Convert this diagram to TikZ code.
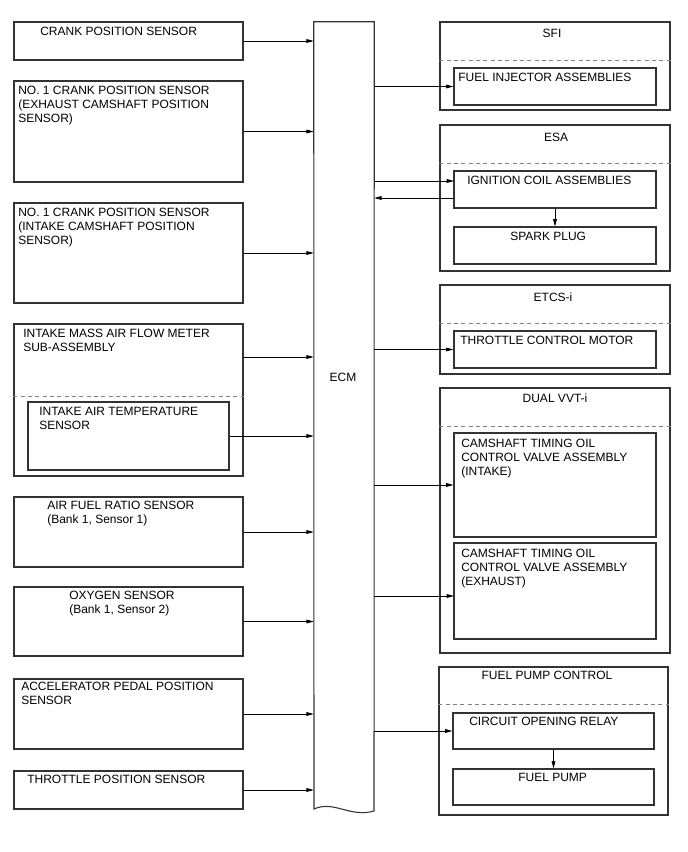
\documentclass[tikz,border=0pt]{standalone}
\usepackage{fontspec}
\setmainfont{Liberation Sans}
\usetikzlibrary{arrows.meta,fit,positioning}

\begin{document}
\begin{tikzpicture}[x=0.75pt, y=-0.75pt,
    every node/.style={font=\fontsize{9pt}{10.5pt}\selectfont},
    box/.style={draw=black!80, line width=0.8pt, inner sep=0pt, fit={#1}},
    txt/.style={anchor=north west, inner sep=0pt, align=left},
    head/.style={anchor=north, inner sep=0pt},
    sep/.style={draw=black!50, line width=0.6pt, dash pattern=on 3pt off 2.5pt},
    arr/.style={-{Triangle[length=5.5pt,width=2.8pt]}, line width=0.55pt}]
    \useasboundingbox (0,0) rectangle (688,852);

    % ECM
    \node[inner sep=0pt, fit={(314,22) (374,812)}] (ecm) {};
    \draw[draw=black!80, line width=0.8pt] (ecm.north west) -- (314,809)
        .. controls (334,800) and (350,818) .. (374,811) -- (ecm.north east) -- cycle;
    \node (ecm-lbl) at (343,377) {ECM};

    % sensors
    \node[box={(14,22) (243,60)}] (crank) {};
    \node[txt] (crank-lbl) at (40,27) {CRANK POSITION SENSOR};
    \node[box={(14,81) (243,182)}] (exh) {};
    \node[txt] (exh-lbl) at (18,86) {NO. 1 CRANK POSITION SENSOR\\(EXHAUST CAMSHAFT POSITION\\SENSOR)};
    \node[box={(14,203) (243,303)}] (int) {};
    \node[txt] (int-lbl) at (18,208) {NO. 1 CRANK POSITION SENSOR\\(INTAKE CAMSHAFT POSITION\\SENSOR)};
    \node[box={(14,324) (243,476)}] (maf) {};
    \node[txt] (maf-lbl) at (23,329) {INTAKE MASS AIR FLOW METER\\SUB-ASSEMBLY};
    \draw[sep] (maf.west |- 0,396) -- (maf.east |- 0,396);
    \node[box={(28,402) (229,470)}] (iat) {};
    \node[txt] (iat-lbl) at (39,407) {INTAKE AIR TEMPERATURE\\SENSOR};
    \node[box={(14,497) (243,567)}] (afr) {};
    \node[txt] (afr-lbl) at (47,501) {AIR FUEL RATIO SENSOR\\(Bank 1, Sensor 1)};
    \node[box={(14,587) (243,656)}] (oxy) {};
    \node[txt] (oxy-lbl) at (69,591) {OXYGEN SENSOR\\(Bank 1, Sensor 2)};
    \node[box={(14,679) (243,749)}] (app) {};
    \node[txt] (app-lbl) at (21,682) {ACCELERATOR PEDAL POSITION\\SENSOR};
    \node[box={(14,771) (243,809)}] (tps) {};
    \node[txt] (tps-lbl) at (27,775) {THROTTLE POSITION SENSOR};

    % actuators
    \node[box={(440,22) (670,110)}] (sfi) {};
    \node[head] (sfi-lbl) at (552,29) {SFI};
    \draw[sep] (sfi.west |- 0,60) -- (sfi.east |- 0,60);
    \node[box={(454,68) (656,105)}] (inj) {};
    \node[txt] (inj-lbl) at (458,73) {FUEL INJECTOR ASSEMBLIES};

    \node[box={(440,125) (670,271)}] (esa) {};
    \node[head] (esa-lbl) at (556,133) {ESA};
    \draw[sep] (esa.west |- 0,163) -- (esa.east |- 0,163);
    \node[box={(454,171) (656,208)}] (ign) {};
    \node[txt] (ign-lbl) at (467,176) {IGNITION COIL ASSEMBLIES};
    \node[box={(454,227) (656,264)}] (spark) {};
    \node[txt] (spark-lbl) at (510,232) {SPARK PLUG};

    \node[box={(440,285) (670,374)}] (etcs) {};
    \node[head] (etcs-lbl) at (553,293) {ETCS-i};
    \draw[sep] (etcs.west |- 0,323) -- (etcs.east |- 0,323);
    \node[box={(454,331) (656,368)}] (tcm) {};
    \node[txt] (tcm-lbl) at (460,336) {THROTTLE CONTROL MOTOR};

    \node[box={(440,388) (670,653)}] (vvt) {};
    \node[head] (vvt-lbl) at (555,394) {DUAL VVT-i};
    \draw[sep] (vvt.west |- 0,426) -- (vvt.east |- 0,426);
    \node[box={(454,433) (656,537)}] (ocvin) {};
    \node[txt] (ocvin-lbl) at (461,439) {CAMSHAFT TIMING OIL\\CONTROL VALVE ASSEMBLY\\(INTAKE)};
    \node[box={(454,543) (656,639)}] (ocvex) {};
    \node[txt] (ocvex-lbl) at (461,549) {CAMSHAFT TIMING OIL\\CONTROL VALVE ASSEMBLY\\(EXHAUST)};

    \node[box={(439,667) (668,815)}] (fpc) {};
    \node[head] (fpc-lbl) at (547,671) {FUEL PUMP CONTROL};
    \draw[sep] (fpc.west |- 0,704) -- (fpc.east |- 0,704);
    \node[box={(453,713) (654,749)}] (relay) {};
    \node[txt] (relay-lbl) at (469,717) {CIRCUIT OPENING RELAY};
    \node[box={(453,769) (654,805)}] (pump) {};
    \node[txt] (pump-lbl) at (518,773) {FUEL PUMP};

    % inputs to ECM
    \coordinate (maf-out) at (243,357);
    \draw[arr] (crank.east) -- (crank.east -| ecm.west);
    \draw[arr] (exh.east) -- (exh.east -| ecm.west);
    \draw[arr] (int.east) -- (int.east -| ecm.west);
    \draw[arr] (maf-out) -- (maf-out -| ecm.west);
    \draw[arr] (iat.east) -- (iat.east -| ecm.west);
    \draw[arr] (afr.east) -- (afr.east -| ecm.west);
    \draw[arr] (oxy.east) -- (oxy.east -| ecm.west);
    \draw[arr] (app.east) -- (app.east -| ecm.west);
    \draw[arr] (tps.east) -- (tps.east -| ecm.west);

    % outputs from ECM
    \coordinate (ign-in) at (454,181);
    \coordinate (ign-out) at (454,198);
    \coordinate (ocvex-in) at (454,596);
    \draw[arr] (inj.west -| ecm.east) -- (inj.west);
    \draw[arr] (ign-in -| ecm.east) -- (ign-in);
    \draw[arr] (ign-out) -- (ign-out -| ecm.east);
    \draw[arr] (ign.south) -- (spark.north);
    \draw[arr] (tcm.west -| ecm.east) -- (tcm.west);
    \draw[arr] (ocvin.west -| ecm.east) -- (ocvin.west);
    \draw[arr] (ocvex-in -| ecm.east) -- (ocvex-in);
    \draw[arr] (relay.west -| ecm.east) -- (relay.west);
    \draw[arr] (relay.south) -- (pump.north);
\end{tikzpicture}
\end{document}
